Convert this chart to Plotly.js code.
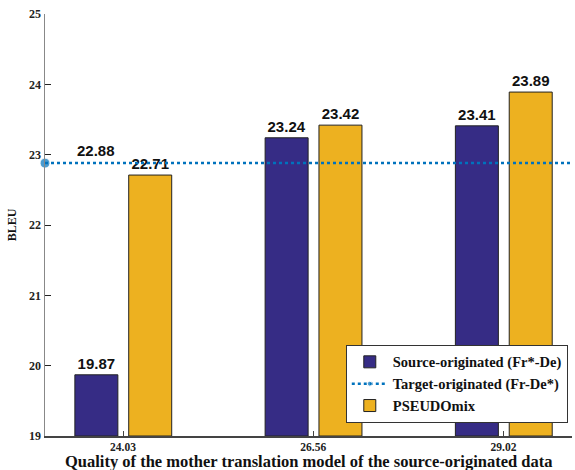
<!DOCTYPE html>
<html><head><meta charset="utf-8">
<script src="https://cdn.plot.ly/plotly-3.0.1.min.js"></script>
<style>html,body{margin:0;padding:0;background:#fff}</style>
</head><body><div id="chart" style="width:575px;height:470px"></div>
<script>
const categories = ['24.03', '26.56', '29.02'];
const sourceOriginated = [19.87, 23.24, 23.41];
const pseudoMix = [22.71, 23.42, 23.89];
const targetOriginated = 22.88;
const seriesNames = ['Source-originated (Fr*-De)', 'Target-originated (Fr-De*)', 'PSEUDOmix'];
const xTitle = 'Quality of the mother translation model of the source-originated data';
const yTitle = 'BLEU';

const idx = categories.map((c, i) => i);
const yBase = 19;
const xRange = [-0.41, 2.36];
const serif = 'Liberation Serif, Times New Roman, serif';
const sans = 'Liberation Sans, Arial, sans-serif';

const traces = [
  {type: 'bar', name: seriesNames[0], x: idx, y: sourceOriginated.map(v => v - yBase), base: yBase,
   width: 0.226, offset: -0.253,
   marker: {color: '#362C85', line: {color: '#222', width: 1}},
   text: sourceOriginated.map(v => v.toFixed(2)), textposition: 'outside', constraintext: 'none',
   textfont: {family: sans, size: 15, color: '#111', weight: 'bold'}, cliponaxis: false},
  {type: 'scatter', name: seriesNames[1], x: xRange, y: [targetOriginated, targetOriginated],
   mode: 'lines+markers', line: {color: '#0072BD', width: 2.5, dash: 'dot'},
   marker: {color: '#0072BD', size: [10, 0]}, cliponaxis: false},
  {type: 'bar', name: seriesNames[2], x: idx, y: pseudoMix.map(v => v - yBase), base: yBase,
   width: 0.226, offset: 0.03,
   marker: {color: '#EDB120', line: {color: '#222', width: 1}},
   text: pseudoMix.map(v => v.toFixed(2)), textposition: 'outside', constraintext: 'none',
   textfont: {family: sans, size: 15, color: '#111', weight: 'bold'}, cliponaxis: false}
];

const layout = {
  width: 575, height: 470,
  margin: {l: 45, r: 3, t: 14, b: 34},
  paper_bgcolor: '#fff', plot_bgcolor: '#fff',
  showlegend: true,
  legend: {x: 0.992, y: 0.031, xanchor: 'right', yanchor: 'bottom',
    bgcolor: '#fff', bordercolor: '#333', borderwidth: 1,
    font: {family: serif, size: 14.5, color: '#111', weight: 'bold'},
    tracegroupgap: 0, itemwidth: 36},
  xaxis: {range: xRange, tickvals: idx, ticktext: categories, showgrid: false, zeroline: false,
    showline: true, linecolor: '#444', linewidth: 1.5, ticks: 'inside', ticklen: 5, tickcolor: '#444',
    tickfont: {family: serif, size: 11.5, color: '#222', weight: 'bold'}},
  yaxis: {range: [19, 25], dtick: 1, showgrid: false, zeroline: false,
    showline: true, linecolor: '#888', linewidth: 1.5, ticks: 'inside', ticklen: 6, tickcolor: '#222',
    tickfont: {family: serif, size: 12, color: '#222', weight: 'bold'},
    title: {text: yTitle, font: {family: serif, size: 12, color: '#111', weight: 'bold'}, standoff: 10}},
  annotations: [
    {x: -0.142, y: targetOriginated, xref: 'x', yref: 'y', text: targetOriginated.toFixed(2),
     showarrow: false, yanchor: 'bottom', yshift: 2,
     font: {family: sans, size: 15, color: '#111', weight: 'bold'}},
    {x: 0.5, y: -34 / 422, xref: 'paper', yref: 'paper', text: xTitle, showarrow: false,
     xanchor: 'center', yanchor: 'bottom', yshift: -2, borderpad: 0,
     font: {family: serif, size: 16.5, color: '#111', weight: 'bold'}}
  ]
};
Plotly.newPlot('chart', traces, layout, {displayModeBar: false, staticPlot: true});
</script></body></html>
